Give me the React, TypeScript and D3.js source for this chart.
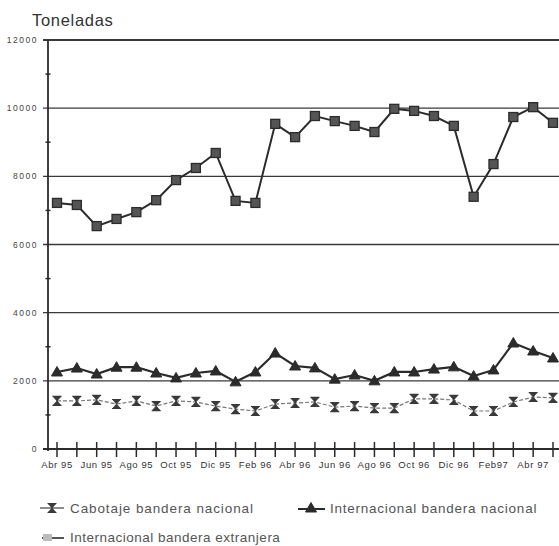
import React from "react";
import * as d3 from "d3";

const months = [
  "Abr 95", "May 95", "Jun 95", "Jul 95", "Ago 95", "Sep 95", "Oct 95", "Nov 95", "Dic 95",
  "Ene 96", "Feb 96", "Mar 96", "Abr 96", "May 96", "Jun 96", "Jul 96", "Ago 96", "Sep 96",
  "Oct 96", "Nov 96", "Dic 96", "Ene 97", "Feb97", "Mar 97", "Abr 97", "May 97",
];

const extranjera = [
  7220, 7160, 6540, 6750, 6950, 7300, 7890, 8245, 8685, 7280, 7220, 9540,
  9150, 9770, 9620, 9480, 9300, 9980, 9920, 9770, 9480, 7400, 8360, 9740, 10030, 9570,
];

const intNacional = [
  2260, 2375, 2200, 2400, 2400, 2230, 2085, 2230, 2290, 1970, 2260, 2815,
  2435, 2380, 2050, 2170, 2000, 2260, 2260, 2345, 2410, 2140, 2320, 3110, 2875, 2670,
];

const cabotaje = [
  1410, 1410, 1440, 1320, 1410, 1260, 1410, 1380, 1260, 1170, 1115, 1320,
  1350, 1380, 1230, 1260, 1200, 1200, 1470, 1470, 1440, 1115, 1115, 1380, 1525, 1500,
];

const yTicks = [0, 2000, 4000, 6000, 8000, 10000, 12000];
const yMinor = [1000, 3000, 5000, 7000, 9000, 11000];

const legendLabels = [
  "Cabotaje bandera nacional",
  "Internacional bandera nacional",
  "Internacional bandera extranjera",
];

const FONT = "'Liberation Sans', Arial, Helvetica, sans-serif";

export default function App() {
  const W = 559;
  const H = 546;
  const x = d3.scaleLinear().domain([0, 25]).range([57, 553]);
  const y = d3.scaleLinear().domain([0, 12000]).range([449, 40]);
  const axisX = 48;

  const line = d3
    .line<number>()
    .x((_, i) => x(i))
    .y((d) => y(d));

  const ink = "#2b2b2b";

  const square = (cx: number, cy: number, key: string, fill = "#555", stroke = ink) => (
    <rect key={key} x={cx - 4.5} y={cy - 4.5} width={9} height={9} fill={fill} stroke={stroke} strokeWidth={1.3} />
  );
  const triangle = (cx: number, cy: number, key: string) => (
    <path key={key} d={`M${cx},${cy - 5.5}L${cx + 5.5},${cy + 4}L${cx - 5.5},${cy + 4}Z`} fill={ink} stroke={ink} strokeWidth={1} />
  );
  const hourglass = (cx: number, cy: number, key: string) => (
    <g key={key} stroke="#3a3a3a" strokeWidth={1.2}>
      <path d={`M${cx - 4.5},${cy - 4.5}L${cx + 4.5},${cy - 4.5}M${cx - 4.5},${cy + 4.5}L${cx + 4.5},${cy + 4.5}`} />
      <path d={`M${cx - 3.5},${cy - 4}L${cx + 3.5},${cy - 4}L${cx},${cy}Z M${cx - 3.5},${cy + 4}L${cx + 3.5},${cy + 4}L${cx},${cy}Z`} fill="#3a3a3a" strokeWidth={0.8} />
    </g>
  );

  const tickIdx = d3.range(0, 27);

  return (
    <svg
      width={W}
      height={H}
      style={{ position: "absolute", left: 0, top: 0, background: "#fff", fontFamily: FONT }}
    >
      <rect x={0} y={0} width={W} height={H} fill="#fff" />
      <text x={32} y={26} fontSize={16.5} fill="#333" letterSpacing={0.7}>Toneladas</text>

      {/* gridlines */}
      {yTicks.map((t) => (
        <g key={"g" + t}>
          {t > 0 && (
            <line x1={axisX - 5} x2={W} y1={y(t)} y2={y(t)} stroke="#3a3a3a" strokeWidth={t === 12000 ? 1.8 : 1.4} />
          )}
          <text x={38} y={y(t) + 3} fontSize={8.5} textAnchor="end" fill="#444" letterSpacing={1.5}>
            {t}
          </text>
        </g>
      ))}
      {yMinor.map((t) => (
        <line key={"m" + t} x1={axisX - 2.5} x2={axisX + 2.5} y1={y(t)} y2={y(t)} stroke={ink} strokeWidth={1.5} />
      ))}

      {/* axes */}
      <line x1={axisX} x2={axisX} y1={y(12000)} y2={y(0) + 2} stroke={ink} strokeWidth={1.8} />
      <line x1={axisX - 5} x2={W} y1={y(0)} y2={y(0)} stroke={ink} strokeWidth={2} />
      {tickIdx.map((i) => (
        <line key={"t" + i} x1={x(i)} x2={x(i)} y1={y(0) - 7} y2={y(0) + 8} stroke={ink} strokeWidth={1.5} />
      ))}
      {months.map((m, i) =>
        i % 2 === 0 ? (
          <text key={"l" + i} x={x(i)} y={468} fontSize={9.5} textAnchor="middle" fill="#333" letterSpacing={0.6}>
            {m}
          </text>
        ) : null
      )}

      {/* series: cabotaje */}
      <path d={line(cabotaje) || ""} fill="none" stroke="#777" strokeWidth={1.2} strokeDasharray="4,2" />
      {cabotaje.map((v, i) => hourglass(x(i), y(v), "c" + i))}

      {/* series: internacional bandera nacional */}
      <path d={line(intNacional) || ""} fill="none" stroke={ink} strokeWidth={2.2} />
      {intNacional.map((v, i) => triangle(x(i), y(v), "n" + i))}

      {/* series: internacional bandera extranjera */}
      <path d={line(extranjera) || ""} fill="none" stroke={ink} strokeWidth={2} />
      {extranjera.map((v, i) => square(x(i), y(v), "e" + i))}

      {/* legend */}
      <g>
        <line x1={40} x2={64} y1={508} y2={508} stroke="#666" strokeWidth={1.5} />
        {hourglass(52, 508, "lg1")}
        <text x={70} y={513} fontSize={13.5} fill="#555" letterSpacing={0.9}>{legendLabels[0]}</text>

        <line x1={298} x2={325} y1={509} y2={509} stroke={ink} strokeWidth={2} />
        {triangle(311, 508, "lg2")}
        <text x={330} y={513} fontSize={13.5} fill="#555" letterSpacing={0.75}>{legendLabels[1]}</text>

        <line x1={42} x2={64} y1={538} y2={538} stroke="#555" strokeWidth={2} />
        <rect x={43} y={534} width={9} height={7} fill="#bbb" />
        <text x={70} y={542} fontSize={13.5} fill="#555" letterSpacing={0.5}>{legendLabels[2]}</text>
      </g>
    </svg>
  );
}
